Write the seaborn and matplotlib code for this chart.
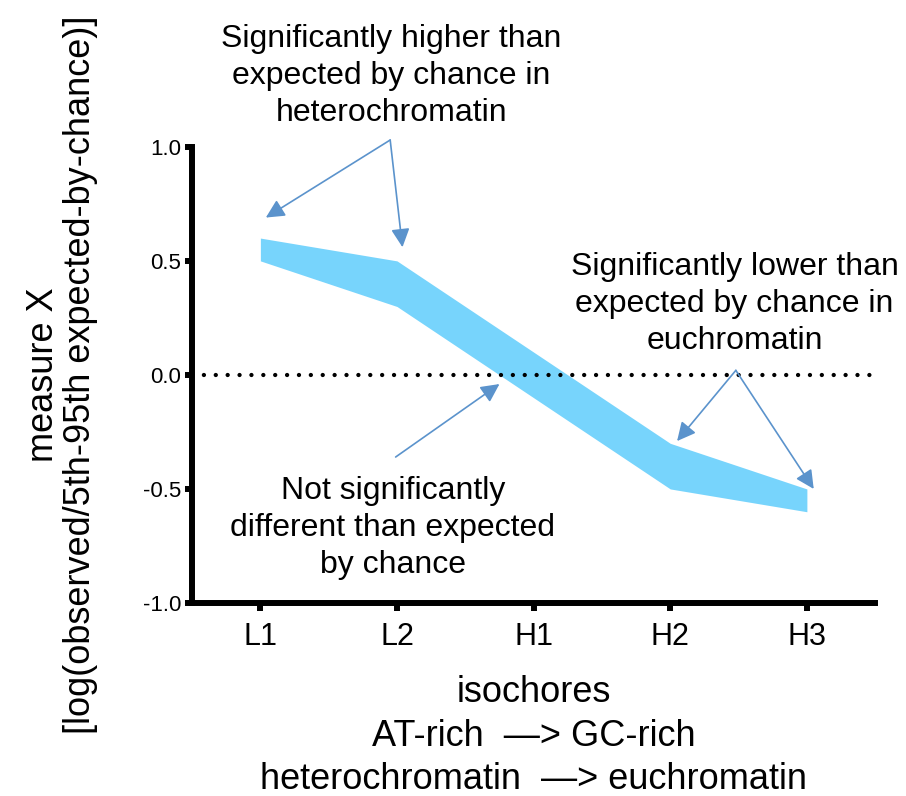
import numpy as np
import pandas as pd
import matplotlib
matplotlib.use('Agg')
import matplotlib.pyplot as plt
import seaborn as sns

# band values (upper / lower edge per isochore)
isochores = ['L1', 'L2', 'H1', 'H2', 'H3']
upper = [0.6, 0.5, 0.1, -0.3, -0.5]
lower = [0.5, 0.3, -0.1, -0.5, -0.6]
yticks = [-1.0, -0.5, 0.0, 0.5, 1.0]

df = pd.DataFrame({'isochore': isochores, 'upper': upper, 'lower': lower})
df['pos'] = np.arange(len(df))

sns.set_style('ticks', {'axes.edgecolor': 'black', 'text.color': 'black',
                        'xtick.color': 'black', 'ytick.color': 'black',
                        'axes.labelcolor': 'black'})
plt.rcParams['font.family'] = ['Liberation Sans', 'DejaVu Sans']

band_color = '#77d4fc'
arrow_color = '#5b93cc'

fig = plt.figure(figsize=(9.06, 7.96), dpi=100)
ax = fig.add_axes([0.212, 0.2425, 0.754, 0.573])

ax.fill_between(df['pos'], df['lower'], df['upper'], color=band_color, lw=0)

# dotted zero line
ax.axhline(0, color='black', lw=3.1, linestyle=(0, (0.01, 2.75)),
           dash_capstyle='round', zorder=1)

ax.set_xlim(-0.5, 4.5)
ax.set_ylim(-1.0, 1.0)
ax.set_xticks(df['pos'])
ax.set_xticklabels(df['isochore'], fontsize=22)
ax.set_yticks(yticks)
ax.set_yticklabels([f'{v:.1f}' for v in yticks], fontsize=16)
ax.tick_params(axis='x', length=6, width=4.3, pad=8)
ax.tick_params(axis='y', length=5, width=4.3, pad=3)
for s in ['left', 'bottom']:
    ax.spines[s].set_linewidth(4.3)
sns.despine(ax=ax)

ax.set_ylabel('measure X\n[log(observed/5th-95th expected-by-chance)]',
              fontsize=26, linespacing=1.1)
ax.yaxis.set_label_coords(-0.137, 0.5)
ax.set_xlabel('isochores\nAT-rich  \u2014> GC-rich\nheterochromatin  \u2014> euchromatin',
              fontsize=26, linespacing=1.32)
ax.xaxis.set_label_coords(0.5, -0.158)

# annotations
txt = dict(ha='center', va='center', fontsize=23, linespacing=1.3)
ax.text(0.96, 1.31, 'Significantly higher than\nexpected by chance in\nheterochromatin', **txt)
ax.text(3.47, 0.31, 'Significantly lower than\nexpected by chance in\neuchromatin', **txt)
ax.text(0.97, -0.67, 'Not significantly\ndifferent than expected\nby chance', **txt)

arw = dict(arrowstyle='-|>', color=arrow_color, lw=1.2, mutation_scale=28,
           shrinkA=0, shrinkB=0)
ax.annotate('', xy=(0.04, 0.69), xytext=(0.95, 1.03), arrowprops=arw, annotation_clip=False)
ax.annotate('', xy=(1.04, 0.56), xytext=(0.95, 1.03), arrowprops=arw, annotation_clip=False)
ax.annotate('', xy=(3.05, -0.29), xytext=(3.48, 0.02), arrowprops=arw, annotation_clip=False)
ax.annotate('', xy=(4.05, -0.50), xytext=(3.48, 0.02), arrowprops=arw, annotation_clip=False)
ax.annotate('', xy=(1.75, -0.04), xytext=(0.99, -0.36), arrowprops=arw, annotation_clip=False)

fig.savefig('out.png', dpi=100)
